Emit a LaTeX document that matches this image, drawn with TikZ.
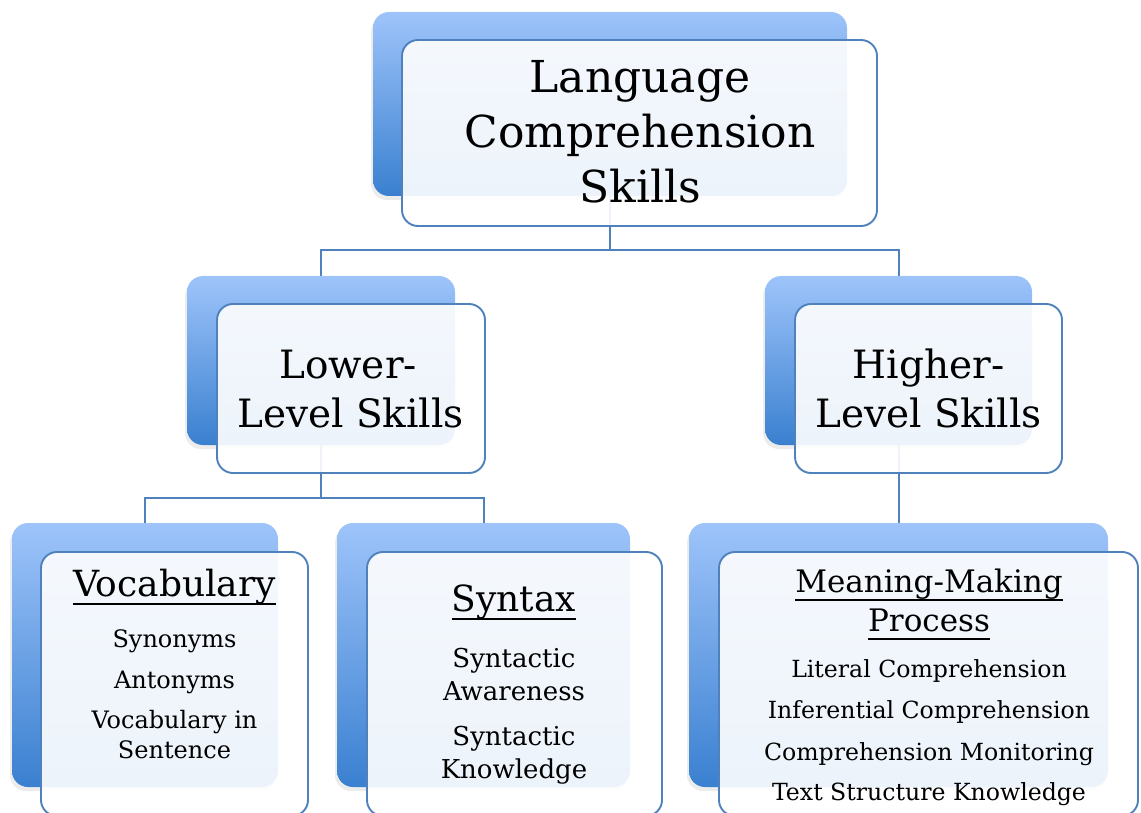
\documentclass[tikz,border=0pt]{standalone}
\usepackage{fontspec}
\setmainfont{DejaVu Serif}
\usepackage{tikz}
\usetikzlibrary{
    shadows,
    backgrounds,
    positioning
}
\definecolor{skyTop}{RGB}{158,196,250}
\definecolor{skyBot}{RGB}{58,128,208}
\definecolor{edgeBlue}{RGB}{79,129,189}

\tikzset{
    backbox/.style={rounded corners=16pt, draw=none, top color=skyTop, bottom color=skyBot,
        drop shadow={shadow xshift=-2pt, shadow yshift=-4pt, opacity=0.15}},
    frontbox/.style={rounded corners=16pt, draw=edgeBlue, line width=1.9pt, fill=white, fill opacity=0.91},
    link/.style={draw=edgeBlue, line width=2pt},
    ulin/.style={draw=black, line width=1.6pt},
    bigtxt/.style={font=\fontsize{44}{55}\selectfont, inner sep=0pt},
    midtxt/.style={font=\fontsize{39}{49}\selectfont, inner sep=0pt},
    headtxt/.style={font=\fontsize{36}{40}\selectfont, inner sep=0pt},
    mmhead/.style={font=\fontsize{31}{40}\selectfont, inner sep=0pt},
    itemtxt/.style={font=\fontsize{24}{30}\selectfont, inner sep=0pt},
    syntxt/.style={font=\fontsize{26}{30}\selectfont, inner sep=0pt},
    mmtxt/.style={font=\fontsize{23.6}{30}\selectfont, inner sep=0pt}
}

\begin{document}
\begin{tikzpicture}[x=1pt, y=-1pt]
    \useasboundingbox (0,0) rectangle (1141,813);

    % top level
    \node[backbox, minimum width=474pt, minimum height=184pt] (langB) at (610,104) {};
    \node[frontbox, minimum width=475pt, minimum height=186pt] (langF) at (639.5,133) {};
    \node[bigtxt, anchor=base] (lang1) at (640,93) {Language};
    \node[bigtxt, anchor=base] (lang2) at (640,148) {Comprehension};
    \node[bigtxt, anchor=base] (lang3) at (640,203) {Skills};

    % second level
    \node[backbox, minimum width=268pt, minimum height=169pt] (lowB) at (321,360.5) {};
    \node[frontbox, minimum width=268pt, minimum height=169pt] (lowF) at (351,388.5) {};
    \node[midtxt, anchor=base] (low1) at (348,378) {Lower-};
    \node[midtxt, anchor=base] (low2) at (350.5,427) {Level Skills};

    \node[backbox, minimum width=267pt, minimum height=169pt] (highB) at (898.5,360.5) {};
    \node[frontbox, minimum width=267pt, minimum height=169pt] (highF) at (928.5,388.5) {};
    \node[midtxt, anchor=base] (high1) at (928.5,378) {Higher-};
    \node[midtxt, anchor=base] (high2) at (928.5,427) {Level Skills};

    % third level
    \node[backbox, minimum width=266pt, minimum height=264pt] (vocB) at (145,655) {};
    \node[frontbox, minimum width=267pt, minimum height=264pt] (vocF) at (174.5,684) {};
    \node[headtxt, anchor=base] (vocH) at (174.5,596) {Vocabulary};
    \node[itemtxt, anchor=base] (voc1) at (174.5,647) {Synonyms};
    \node[itemtxt, anchor=base] (voc2) at (174.5,688) {Antonyms};
    \node[itemtxt, anchor=base] (voc3) at (174.5,728) {Vocabulary in};
    \node[itemtxt, anchor=base] (voc4) at (174.5,758) {Sentence};

    \node[backbox, minimum width=293pt, minimum height=264pt] (synB) at (483.5,655) {};
    \node[frontbox, minimum width=295pt, minimum height=264pt] (synF) at (514.5,684) {};
    \node[headtxt, anchor=base] (synH) at (514,611) {Syntax};
    \node[syntxt, anchor=base] (syn1) at (514,667) {Syntactic};
    \node[syntxt, anchor=base] (syn2) at (514,700) {Awareness};
    \node[syntxt, anchor=base] (syn3) at (514,745) {Syntactic};
    \node[syntxt, anchor=base] (syn4) at (514,778) {Knowledge};

    \node[backbox, minimum width=419pt, minimum height=264pt] (mmB) at (898.5,655) {};
    \node[frontbox, minimum width=419pt, minimum height=264pt] (mmF) at (928.5,684) {};
    \node[mmhead, anchor=base] (mmH1) at (929,592) {Meaning-Making};
    \node[mmhead, anchor=base] (mmH2) at (929,631) {Process};
    \node[mmtxt, anchor=base] (mm1) at (929,677) {Literal Comprehension};
    \node[mmtxt, anchor=base] (mm2) at (929,718) {Inferential Comprehension};
    \node[mmtxt, anchor=base] (mm3) at (929,760) {Comprehension Monitoring};
    \node[mmtxt, anchor=base] (mm4) at (929,800) {Text Structure Knowledge};

    % underlines of the headings
    \foreach \h in {vocH, synH, mmH1, mmH2}
        \draw[ulin] ([yshift=-8pt]\h.base west) -- ([yshift=-8pt]\h.base east);

    % connectors behind the boxes
    \coordinate (hubA) at (0,250);
    \coordinate (hubB) at (0,498);
    \begin{scope}[on background layer]
        \draw[link] (langB.center) -- (langB.center |- hubA) -| (lowB.center);
        \draw[link] (langB.center |- hubA) -| (highB.center);
        \draw[link] (lowB.center) -- (lowB.center |- hubB) -| (vocB.center);
        \draw[link] (lowB.center |- hubB) -| (synB.center);
        \draw[link] (highB.center) -- (mmB.center);
    \end{scope}
\end{tikzpicture}
\end{document}
